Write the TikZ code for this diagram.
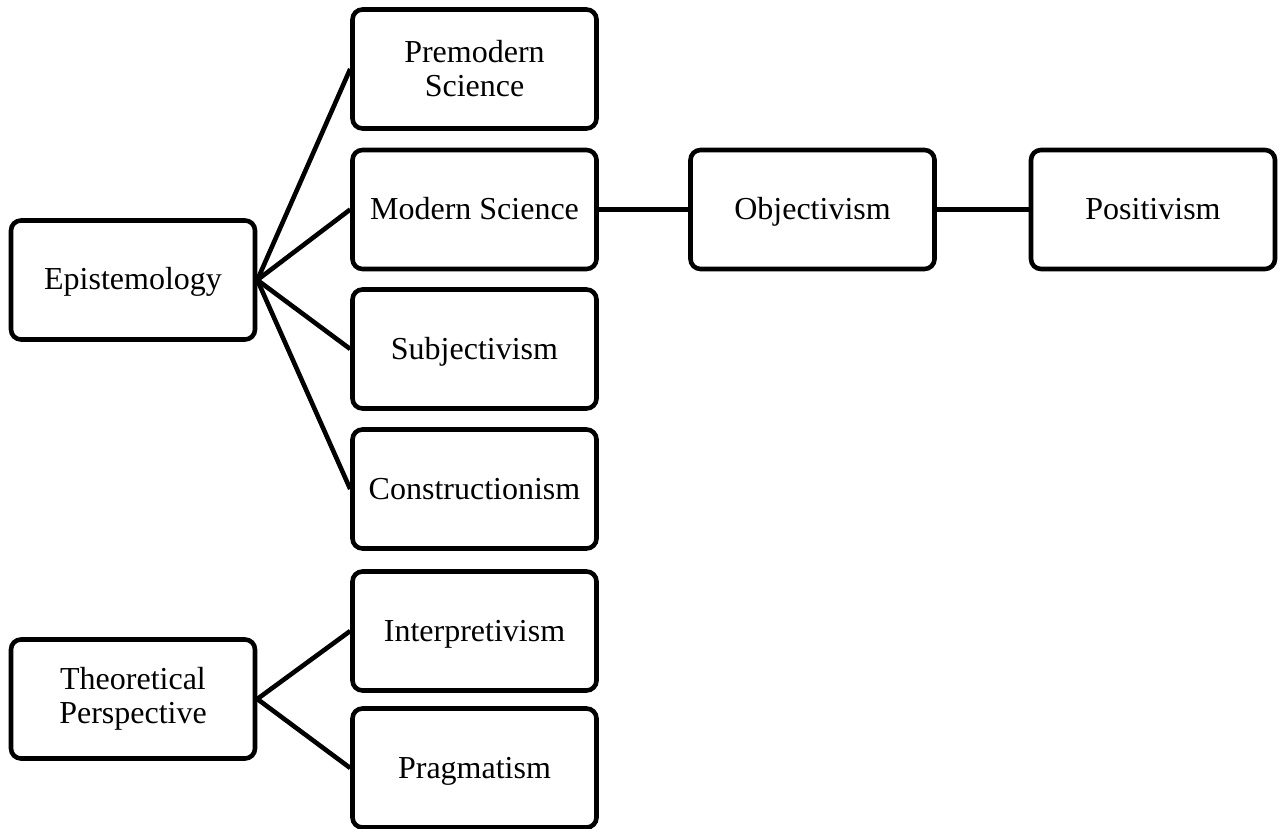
\documentclass[tikz,border=0pt]{standalone}
\usepackage{fontspec}
\setmainfont{Liberation Serif}
\begin{document}
\begin{tikzpicture}[x=1pt,y=-1pt,
  box/.style={draw=black, line width=4.6pt, rounded corners=10pt, rectangle,
    minimum width=244pt, minimum height=119pt, inner sep=0pt, align=center,
    font=\fontsize{32}{34}\selectfont},
  oneline/.style={box, text height=26pt, text depth=6pt},
  link/.style={draw=black, line width=4.6pt}]
  \useasboundingbox (0,0) rectangle (1280,829);

  % left-hand roots
  \node[oneline] (epi) at (133,280) {Epistemology};
  \node[box] (theo) at (133,699) {Theoretical\\Perspective};

  % middle column
  \node[box]     (pre)  at (474.5,69)    {Premodern\\Science};
  \node[oneline] (mod)  at (474.5,209.5) {Modern Science};
  \node[oneline] (sub)  at (474.5,349)   {Subjectivism};
  \node[oneline] (con)  at (474.5,489)   {Constructionism};
  \node[oneline] (int)  at (474.5,631)   {Interpretivism};
  \node[oneline] (prag) at (474.5,768)   {Pragmatism};

  % right-hand chain
  \node[oneline] (obj) at (812.5,209.5) {Objectivism};
  \node[oneline] (pos) at (1153,209.5)  {Positivism};

  % connectors
  \foreach \t in {pre,mod,sub,con}
    \draw[link] (epi.east) -- (\t.west);
  \foreach \t in {int,prag}
    \draw[link] (theo.east) -- (\t.west);
  \draw[link] (mod.east) -- (obj.west);
  \draw[link] (obj.east) -- (pos.west);
\end{tikzpicture}
\end{document}
